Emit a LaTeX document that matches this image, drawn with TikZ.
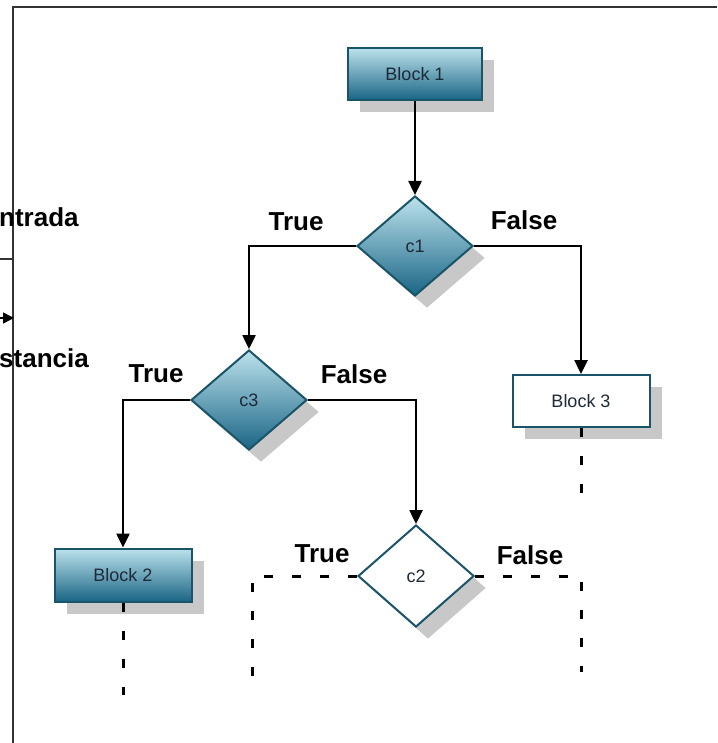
\documentclass[tikz,border=0pt]{standalone}
\usepackage{fontspec}
\setmainfont{Liberation Sans}
\usetikzlibrary{arrows.meta,shapes.geometric,shadows}
\definecolor{tealtop}{HTML}{BCE2EC}
\definecolor{tealbot}{HTML}{1A6585}
\definecolor{tealedge}{HTML}{1A5468}
\definecolor{shadowgray}{HTML}{C8C8C8}
\definecolor{txtdark}{HTML}{1E2A38}
\definecolor{framegray}{HTML}{333333}
\tikzset{
  shd/.style={drop shadow={shadow xshift=12pt,shadow yshift=-12pt,fill=shadowgray,opacity=1}},
  blockbox/.style={rectangle,draw=tealedge,line width=2pt,minimum width=134pt,minimum height=52pt,
    inner sep=0pt,font=\fontsize{18}{22}\selectfont,text=txtdark,shd},
  tealfill/.style={top color=tealtop,bottom color=tealbot},
  whitefill/.style={fill=white},
  decbox/.style={diamond,draw=tealedge,line width=2pt,minimum width=116pt,minimum height=100pt,
    inner sep=0pt,font=\fontsize{18}{22}\selectfont,text=txtdark,shd},
  conn/.style={line width=2.5pt,black},
  arr/.style={conn,-{Triangle[length=14pt,width=13pt]}},
  dashconn/.style={line width=3pt,black,dash pattern=on 9pt off 19pt},
  lbl/.style={font=\bfseries\fontsize{26}{30}\selectfont,inner sep=0pt},
  framel/.style={line width=1.5pt,framegray}
}
\begin{document}
\begin{tikzpicture}[x=1pt,y=-1pt]
\useasboundingbox[fill=white] (0,0) rectangle (717,743);
% frame
\coordinate (ftl) at (13,7);
\coordinate (ftr) at (717,7);
\coordinate (fbl) at (13,743);
\draw[framel] (ftr) -- (ftl) -- (fbl);
% left side fragments
\node[lbl,anchor=west] (entr) at (-1,217) {ntrada};
\node[lbl,anchor=west] (dist) at (-1,358) {stancia};
\coordinate (l1a) at (0,259);
\coordinate (l1b) at (13,259);
\draw[framel] (l1a) -- (l1b);
\coordinate (l2a) at (0,318);
\coordinate (l2b) at (14,318);
\draw[line width=1.5pt,-{Triangle[length=11pt,width=11pt]}] (l2a) -- (l2b);
% nodes
\node[blockbox,tealfill] (b1) at (415,74) {Block 1};
\node[decbox,tealfill] (c1) at (415,246) {c1};
\node[decbox,tealfill] (c3) at (249,400) {c3};
\node[blockbox,whitefill,minimum width=137pt] (b3) at (581,401) {Block 3};
\node[blockbox,tealfill,minimum width=137pt,minimum height=53pt] (b2) at (123,575) {Block 2};
\node[decbox,whitefill,minimum height=102pt] (c2) at (416,576) {c2};
% connectors
\draw[arr] (b1) -- (c1);
\draw[arr] (c1.west) -| (c3.north);
\draw[arr] (c1.east) -| (b3.north);
\draw[arr] (c3.west) -| (b2.north);
\draw[arr] (c3.east) -| (c2.north);
% dashed continuations
\coordinate (b2end) at (123,695);
\coordinate (b3end) at (581,500);
\coordinate (c2l) at (252,676);
\coordinate (c2r) at (581,672);
\draw[dashconn] (b2.south) -- (b2end);
\draw[dashconn] (b3.south) -- (b3end);
\draw[dashconn] (c2.west) -| (c2l);
\draw[dashconn] (c2.east) -| (c2r);
% labels
\node[lbl] (t1) at (296,222) {True};
\node[lbl] (f1) at (524,220) {False};
\node[lbl] (t3) at (156,374) {True};
\node[lbl] (f3) at (354,374) {False};
\node[lbl] (t2) at (322,554) {True};
\node[lbl] (f2) at (530,555) {False};
\end{tikzpicture}
\end{document}
